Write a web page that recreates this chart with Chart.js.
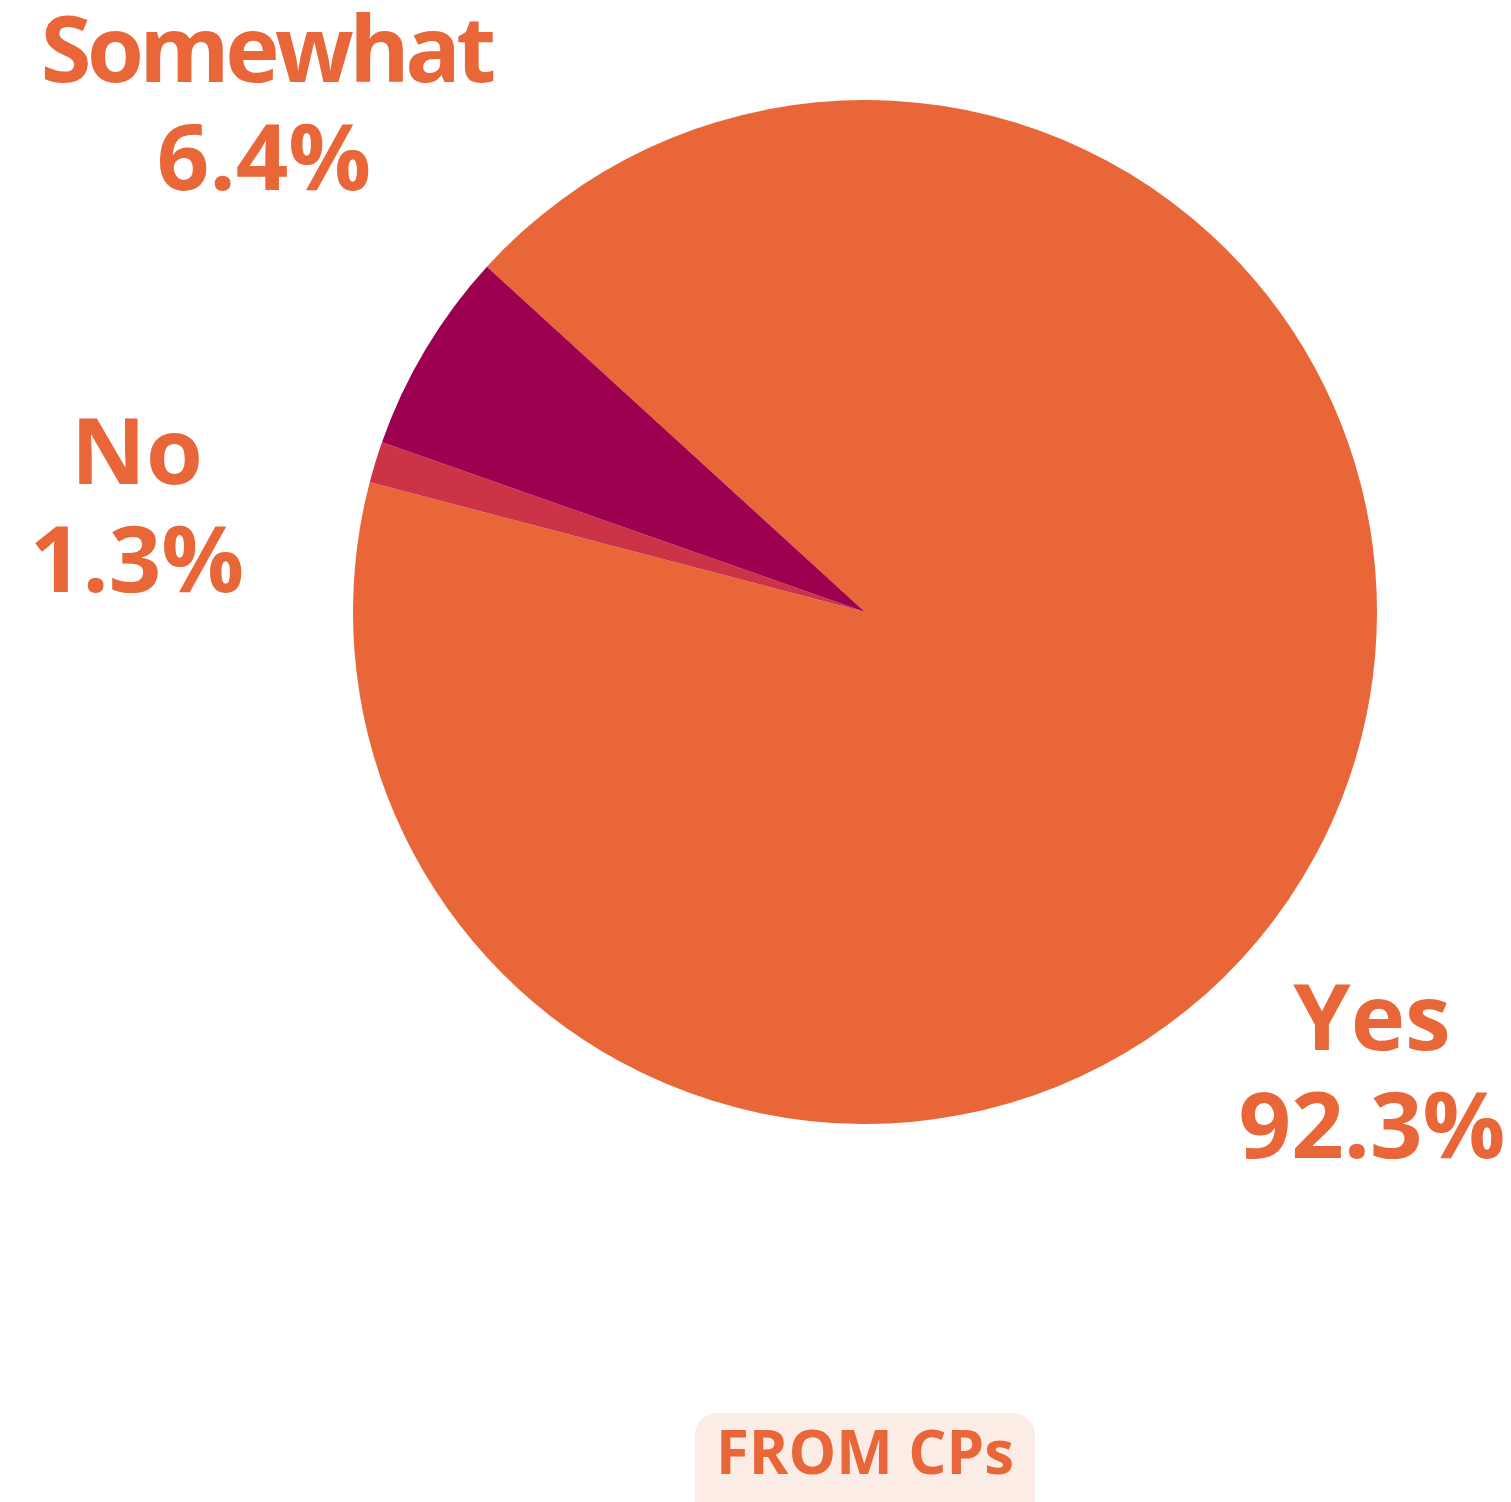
<!DOCTYPE html>
<html>
<head>
<meta charset="utf-8">
<script src="https://cdn.jsdelivr.net/npm/chart.js@4/dist/chart.umd.min.js"></script>
<style>
  html, body { margin: 0; padding: 0; background: #fff; }
  body { width: 1511px; height: 1502px; position: relative; overflow: hidden; font-family: "Open Sans", sans-serif; }
  #pieBox { position: absolute; left: 353px; top: 100px; width: 1024px; height: 1024px; }
  .lbl { position: absolute; color: #E86638; font-weight: 700; font-size: 92px; line-height: 108px; text-align: center; white-space: nowrap; transform: translateX(-50%); }
  .lbl .tight { letter-spacing: -4.5px; margin-left: 4.5px; }
  .badge { position: absolute; left: 695px; top: 1413px; width: 340px; height: 110px; background: #FCECE6; border-radius: 22px; }
  .badge span { position: absolute; left: 0; right: 0; top: 0px; text-align: center; color: #E86638; font-weight: 700; font-size: 60px; line-height: 76px; }
</style>
</head>
<body>
<div id="pieBox"><canvas id="pieChart" width="1024" height="1024"></canvas></div>
<div class="lbl" id="lbl0" style="left:1372px; top:961px;"></div>
<div class="lbl" id="lbl1" style="left:137px; top:395px;"></div>
<div class="lbl" id="lbl2" style="left:264px; top:-7px;"></div>
<div class="badge"><span id="badgeText"></span></div>
<script>
// ===============================
// Dữ liệu
// ===============================
const labels = ["Yes", "No", "Somewhat"];
const values = [92.3, 1.3, 6.4];
const colors = ["#E86638", "#CC3347", "#9E0050"];
const sourceLabel = "FROM CPs";

// nhãn bên ngoài
labels.forEach((l, i) => {
  const name = l.length > 4 ? '<span class="tight">' + l + "</span>" : l;
  document.getElementById("lbl" + i).innerHTML =
    name + "<br>" + values[i].toFixed(1) + "%";
});
document.getElementById("badgeText").textContent = sourceLabel;

new Chart(document.getElementById("pieChart"), {
  type: "pie",
  data: {
    labels: labels,
    datasets: [
      {
        data: values,
        backgroundColor: colors,
        borderWidth: 0,
      },
    ],
  },
  options: {
    responsive: false,
    animation: false,
    rotation: 312.4,
    layout: { padding: 0 },
    plugins: {
      legend: { display: false },
      tooltip: { enabled: false },
    },
  },
});
</script>
</body>
</html>
